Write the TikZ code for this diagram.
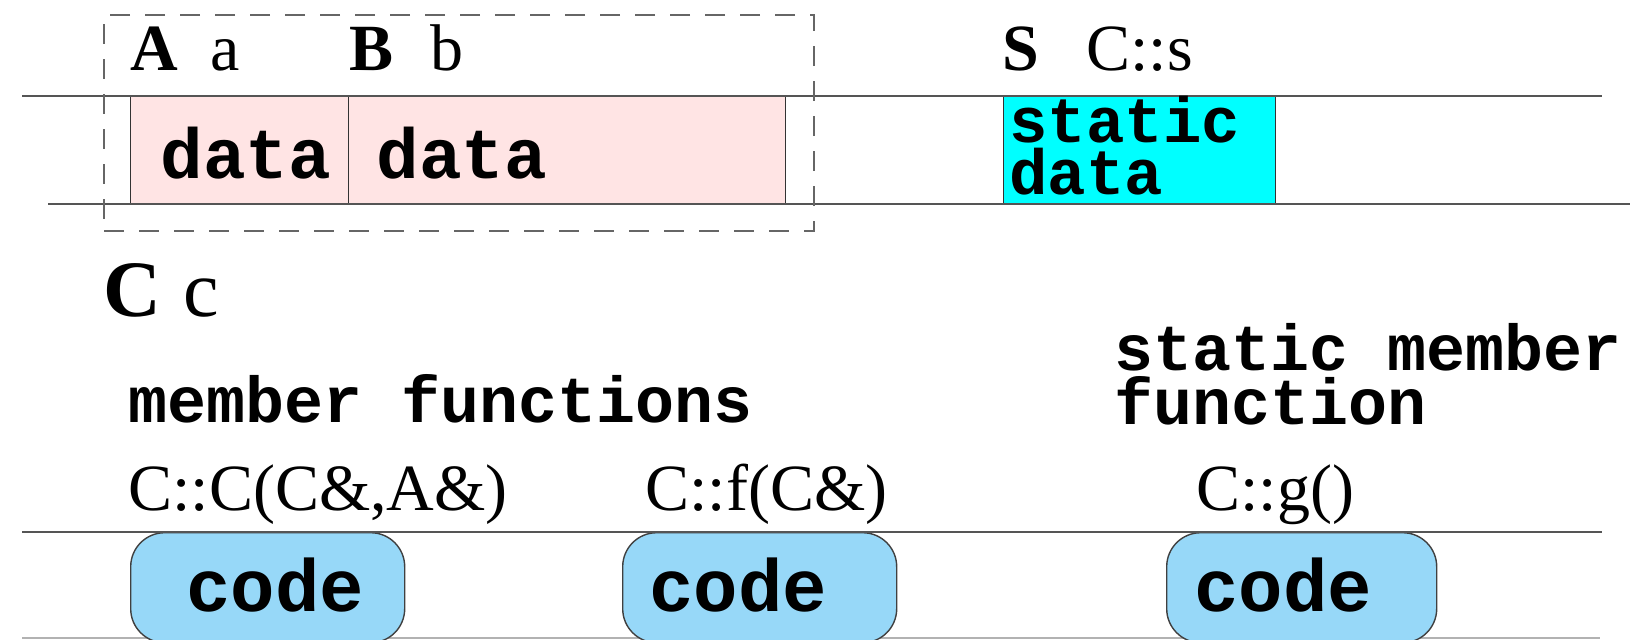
\documentclass[tikz,border=0pt]{standalone}
\usepackage{fontspec}
\setmainfont{Liberation Serif}
\setmonofont{Liberation Mono}
\definecolor{pinkfill}{HTML}{FFE4E4}
\definecolor{cyanfill}{HTML}{00FFFF}
\definecolor{codefill}{HTML}{97D8F8}
\definecolor{bandline}{HTML}{555555}
\begin{document}
\begin{tikzpicture}[x=0.5pt,y=-0.5pt,
  band/.style={draw=bandline, line width=1.4pt},
  cell/.style={draw=black!80, line width=0.7pt, inner sep=0pt, anchor=north west},
  codebox/.style={draw=black!75, line width=0.7pt, fill=codefill, rounded corners=17pt, inner sep=0pt, anchor=north west, minimum width=137pt, minimum height=55pt},
  ser/.style={inner sep=0pt, anchor=base west, font=\fontsize{33}{38}\selectfont},
  serb/.style={ser, font=\fontsize{33}{38}\selectfont\bfseries},
  big/.style={inner sep=0pt, anchor=base west, font=\fontsize{40}{46}\selectfont},
  ttl/.style={inner sep=0pt, anchor=base west, font=\fontsize{32.5}{26}\selectfont\ttfamily\bfseries, align=left},
  ttbig/.style={inner sep=0pt, anchor=base west, font=\fontsize{37}{40}\selectfont\ttfamily\bfseries}
]
\useasboundingbox (0,0) rectangle (1645,639);

% data band
\coordinate (t1) at (22,96);
\coordinate (t2) at (1602,96);
\coordinate (b1) at (48,204);
\coordinate (b2) at (1630,204);

\node[cell, fill=pinkfill, minimum width=109pt, minimum height=54pt] (boxA) at (130,96) {};
\node[cell, fill=pinkfill, minimum width=218.5pt, minimum height=54pt] (boxB) at (348,96) {};
\node[cell, fill=cyanfill, minimum width=136pt, minimum height=54pt] (boxS) at (1003,96) {};

\draw[band] (t1) -- (t2);
\draw[band] (b1) -- (b2);

% dashed frame
\node[draw=black!60, line width=1pt, dash pattern=on 10pt off 7.5pt, inner sep=0pt, anchor=north west, minimum width=355pt, minimum height=108pt] (frame) at (103,14) {};

% labels top
\node[serb] (Al) at (130,70) {A};
\node[ser] (al) at (210,70) {a};
\node[serb] (Bl) at (349,70) {B};
\node[ser] (bl) at (430,70) {b};
\node[serb] (Sl) at (1002,70) {S};
\node[ser] (sl) at (1086,70) {C::s};

% data texts
\node[ttbig, font=\fontsize{35.5}{40}\selectfont\ttfamily\bfseries] (dA) at (160,178) {data};
\node[ttbig, font=\fontsize{35.5}{40}\selectfont\ttfamily\bfseries] (dB) at (376,178) {data};
\node[ttl, font=\fontsize{32}{26}\selectfont\ttfamily\bfseries] (sd) at (1009,194) {static\\data};

% C c
\node[big, font=\fontsize{40}{46}\selectfont\bfseries] (Cl) at (103,316) {C};
\node[big] (cl) at (183,316) {c};

% member function headings
\node[ttl] (mf) at (128,422) {member functions};
\node[ttl, font=\fontsize{32.5}{27}\selectfont\ttfamily\bfseries] (smf) at (1114,424) {static member\\function};

% signatures
\node[ser] (s1) at (128,510) {C::C(C\&,A\&)};
\node[ser] (s2) at (645,510) {C::f(C\&)};
\node[ser] (s3) at (1196,510) {C::g()};

% code band
\coordinate (c1) at (22,532);
\coordinate (c2) at (1602,532);
\coordinate (d1) at (22,638);
\coordinate (d2) at (1600,638);
\draw[draw=black!30, line width=1pt] (d1) -- (d2);

\node[codebox] (k1) at (130,532) {};
\node[codebox] (k2) at (622,532) {};
\node[codebox, minimum width=135pt] (k3) at (1166,532) {};
\draw[band] (c1) -- (c2);

\node[ttbig] (ct1) at (186,611) {code};
\node[ttbig] (ct2) at (649,611) {code};
\node[ttbig] (ct3) at (1194,611) {code};
\end{tikzpicture}
\end{document}
